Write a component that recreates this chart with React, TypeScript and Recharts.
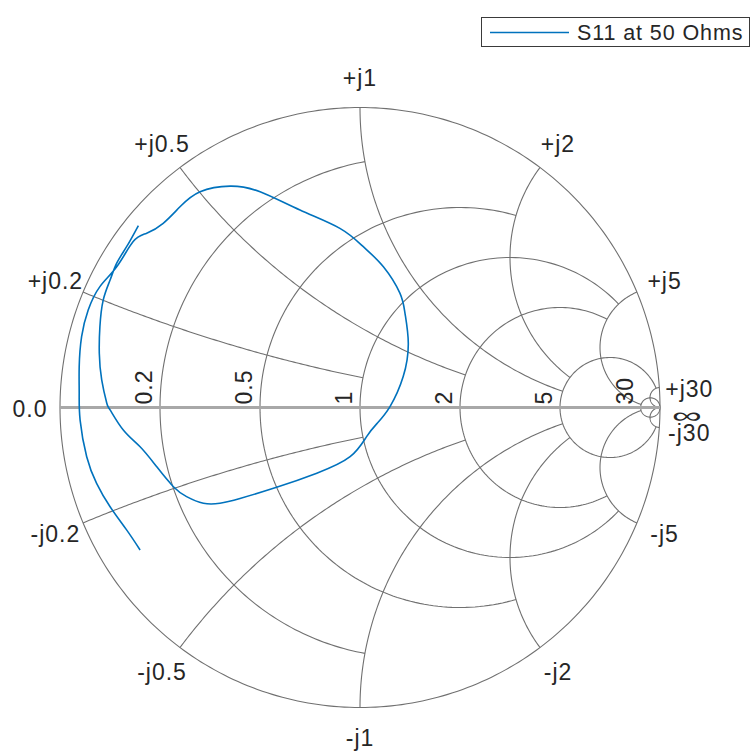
import React from 'react';
import { ScatterChart, Scatter, XAxis, YAxis, ReferenceDot, Legend } from 'recharts';

// Smith chart grid values (normalised) and where each grid line stops
const R_VALUES = [0.2, 0.5, 1, 2, 5, 30];
const R_LIMITS = [1, 2, 5, 5, 30, Infinity];
const X_VALUES = [0.2, 0.5, 1, 2, 5, 30];
const X_LIMITS = [1, 2, 5, 5, 30, Infinity];
const R_LABELS = ['0.2', '0.5', '1', '2', '5', '30'];
const X_LABELS = ['0.2', '0.5', '1', '2', '5', '30'];

const S11_RE = [
  -0.739, -0.778, -0.811, -0.833, -0.856, -0.867, -0.869, -0.861, -0.844, -0.833,
  -0.789, -0.733, -0.678, -0.622, -0.578, -0.522, -0.467, -0.4, -0.278, -0.144,
  -0.033, 0.022, 0.057, 0.1, 0.144, 0.161, 0.15, 0.133, 0.078, 0.011,
  -0.067, -0.2, -0.333, -0.433, -0.533, -0.6, -0.656, -0.711, -0.756, -0.811,
  -0.867, -0.906, -0.928, -0.936, -0.936, -0.933, -0.911, -0.878, -0.833, -0.778,
  -0.733,
];
const S11_IM = [
  0.606, 0.536, 0.481, 0.425, 0.358, 0.269, 0.181, 0.092, 0.014, -0.008,
  -0.075, -0.131, -0.197, -0.264, -0.297, -0.319, -0.319, -0.303, -0.266, -0.219,
  -0.164, -0.097, -0.053, 0.003, 0.103, 0.214, 0.314, 0.381, 0.469, 0.536,
  0.597, 0.658, 0.719, 0.738, 0.719, 0.669, 0.614, 0.581, 0.553, 0.469,
  0.403, 0.325, 0.236, 0.136, 0.047, -0.042, -0.164, -0.253, -0.331, -0.408,
  -0.475,
];

const SERIES_NAME = 'S11 at 50 Ohms';
const BLUE = '#0072BD';
const GRID = '#707070';
const TEXT = '#262626';
const FONT = '"Liberation Sans", Arial, Helvetica, sans-serif';

type Pt = { x: number; y: number };

const gamma = (r: number, x: number): Pt => {
  const d = (r + 1) * (r + 1) + x * x;
  return { x: (r * r - 1 + x * x) / d, y: (2 * x) / d };
};

const reactanceArc = (x: number, rMax: number, n = 120): Pt[] => {
  const s = Math.sign(x);
  const ax = Math.abs(x);
  const rho = 1 / ax;
  const p0 = gamma(0, ax);
  const p1 = rMax === Infinity ? { x: 1, y: 0 } : gamma(rMax, ax);
  const a0 = Math.atan2(p0.y - rho, p0.x - 1);
  let a1 = Math.atan2(p1.y - rho, p1.x - 1);
  while (a1 < a0) a1 += 2 * Math.PI;
  const pts: Pt[] = [];
  for (let i = 0; i <= n; i++) {
    const a = a0 + ((a1 - a0) * i) / n;
    pts.push({ x: 1 + rho * Math.cos(a), y: s * (rho + rho * Math.sin(a)) });
  }
  return pts;
};

const resistanceCircle = (r: number, xMax: number, n = 160): Pt[] => {
  const c = r / (1 + r);
  const rho = 1 / (1 + r);
  let a0 = 0;
  if (xMax !== Infinity) {
    const p = gamma(r, xMax);
    a0 = Math.atan2(p.y, p.x - c);
  }
  const a1 = 2 * Math.PI - a0;
  const pts: Pt[] = [];
  for (let i = 0; i <= n; i++) {
    const a = a0 + ((a1 - a0) * i) / n;
    pts.push({ x: c + rho * Math.cos(a), y: rho * Math.sin(a) });
  }
  return pts;
};

const NoDot = () => <g />;

const s11Data = S11_RE.map((x, i) => ({ x, y: S11_IM[i] }));

const LegendBox = () => (
  <div
    style={{
      width: 267,
      height: 28,
      border: '1px solid #3a3a3a',
      background: '#fff',
      position: 'relative',
      fontFamily: FONT,
    }}
  >
    <svg width={267} height={28} style={{ position: 'absolute', left: 0, top: 0 }}>
      <line x1={8} x2={87} y1={14.5} y2={14.5} stroke={BLUE} strokeWidth={1.5} />
      <text x={95} y={22} fontSize={21.5} fill={TEXT} letterSpacing={0.9} fontFamily={FONT}>
        {SERIES_NAME}
      </text>
    </svg>
  </div>
);

const labelShape = (text: string, dy = 8) => (props: any) => (
  <text
    x={props.cx}
    y={props.cy + dy}
    textAnchor="middle"
    fontSize={23}
    letterSpacing={1}
    fill={TEXT}
    fontFamily={FONT}
  >
    {text}
  </text>
);

// the infinity mark at the right end of the real axis is wide and flat
const infShape = (props: any) => (
  <text
    transform={`translate(${props.cx}, ${props.cy + 9}) scale(1.9, 1)`}
    textAnchor="middle"
    fontSize={22}
    fill={TEXT}
    fontFamily={FONT}
  >
    ∞
  </text>
);

const rLabelShape = (text: string) => (props: any) => {
  const tx = props.cx - 8;
  const ty = props.cy - 3;
  return (
    <text
      x={tx}
      y={ty}
      transform={`rotate(-90, ${tx}, ${ty})`}
      textAnchor="start"
      fontSize={23}
      letterSpacing={1}
      fill={TEXT}
      fontFamily={FONT}
    >
      {text}
    </text>
  );
};

export default function App() {
  const reactance = X_VALUES.flatMap((x, i) => [
    { key: `xp${i}`, data: reactanceArc(x, X_LIMITS[i]) },
    { key: `xn${i}`, data: reactanceArc(-x, X_LIMITS[i]) },
  ]);
  const resistance = [
    { key: 'r0', data: resistanceCircle(0, Infinity, 360) },
    ...R_VALUES.map((r, i) => ({ key: `r${i + 1}`, data: resistanceCircle(r, R_LIMITS[i]) })),
  ];
  const LR = 1.1;
  const xLabels = X_VALUES.flatMap((x, i) => {
    const p = gamma(0, x);
    const nearInf = x >= 30;
    return [
      { key: `lxp${i}`, x: p.x * LR, y: p.y * LR, text: `+j${X_LABELS[i]}`, dy: nearInf ? 11 : 8 },
      { key: `lxn${i}`, x: p.x * LR, y: -p.y * LR, text: `-j${X_LABELS[i]}`, dy: nearInf ? 12 : 8 },
    ];
  });

  return (
    <div style={{ position: 'absolute', left: 0, top: 0 }}>
      <ScatterChart
        width={754}
        height={756}
        margin={{ top: 107.5, right: 94, bottom: 48.5, left: 60 }}
      >
        <XAxis type="number" dataKey="x" domain={[-1, 1]} hide />
        <YAxis type="number" dataKey="y" domain={[-1, 1]} hide />
        {resistance.map((g) => (
          <Scatter
            key={g.key}
            data={g.data}
            line={{ stroke: GRID, strokeWidth: 1.1 }}
            lineType="joint"
            shape={NoDot}
            legendType="none"
            isAnimationActive={false}
          />
        ))}
        {reactance.map((g) => (
          <Scatter
            key={g.key}
            data={g.data}
            line={{ stroke: GRID, strokeWidth: 1.1 }}
            lineType="joint"
            shape={NoDot}
            legendType="none"
            isAnimationActive={false}
          />
        ))}
        <Scatter
          data={[{ x: -1, y: 0 }, { x: 1, y: 0 }]}
          line={{ stroke: '#a8a8a8', strokeWidth: 3 }}
          lineType="joint"
          shape={NoDot}
          legendType="none"
          isAnimationActive={false}
        />
        <Scatter
          name={SERIES_NAME}
          data={s11Data}
          fill={BLUE}
          line={{ stroke: BLUE, strokeWidth: 1.6 }}
          lineType="joint"
          lineJointType="natural"
          shape={NoDot}
          isAnimationActive={false}
        />
        {R_VALUES.map((r, i) => (
          <ReferenceDot
            key={`lr${i}`}
            x={(r - 1) / (r + 1)}
            y={0}
            r={0}
            ifOverflow="visible"
            shape={rLabelShape(R_LABELS[i])}
          />
        ))}
        {xLabels.map((l) => (
          <ReferenceDot key={l.key} x={l.x} y={l.y} r={0} ifOverflow="visible" shape={labelShape(l.text, l.dy)} />
        ))}
        <ReferenceDot x={-LR} y={0} r={0} ifOverflow="visible" shape={labelShape('0.0', 9)} />
        <ReferenceDot x={1.09} y={-0.02} r={0} ifOverflow="visible" shape={infShape} />
        <Legend
          layout="horizontal"
          verticalAlign="middle"
          content={<LegendBox />}
          wrapperStyle={{ left: 481, top: 17, width: 269, height: 30, margin: 0, padding: 0 }}
        />
      </ScatterChart>
    </div>
  );
}
